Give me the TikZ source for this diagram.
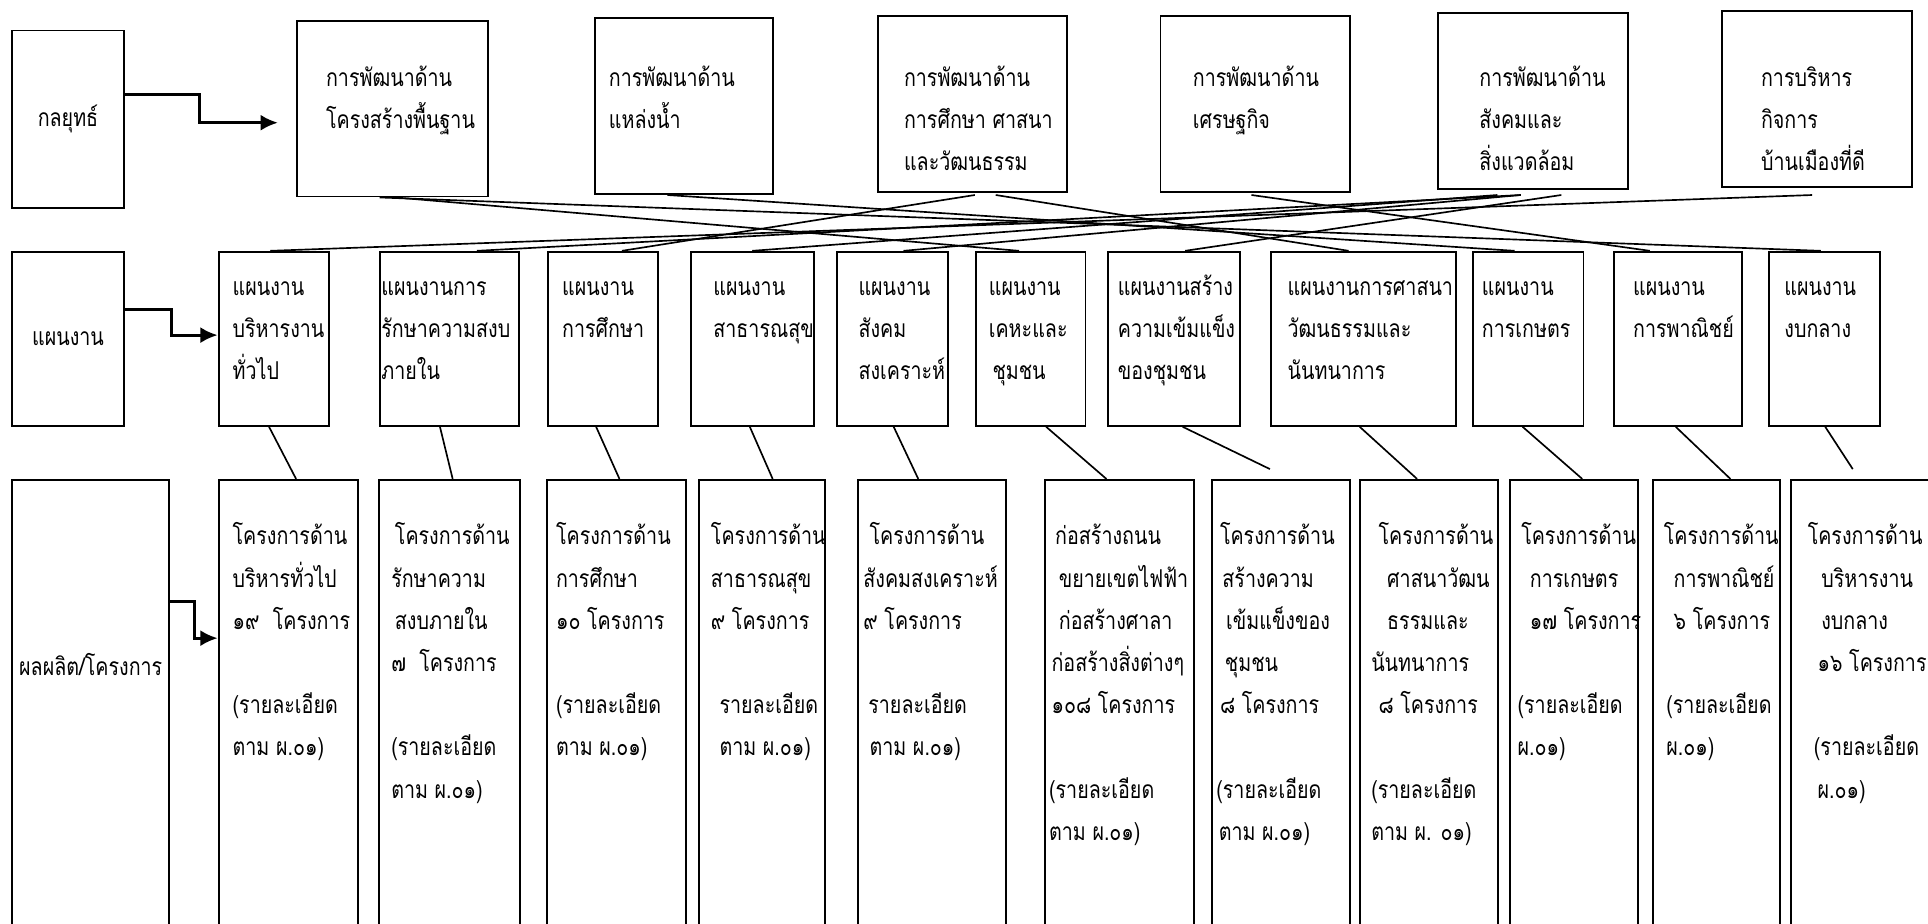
\documentclass[tikz,border=0pt]{standalone}
\usepackage{fontspec}
\newfontfamily\thaifont[Script=Thai,FakeStretch=0.8]{Loma}
\usetikzlibrary{%
  arrows.meta,%
  calc%
}
\tikzset{>={Latex[length=14pt,width=13pt]}}
\newcommand\ind[1]{\hspace*{#1pt}}
\tikzset{
  box/.style={draw, line width=1.6pt, anchor=north west, inner sep=0pt},
  txt/.style={anchor=north west, inner sep=0pt, align=left, yshift=19pt,
    font=\thaifont\fontsize{20}{34.3}\selectfont},
  lbl/.style={inner sep=0pt, font=\thaifont\fontsize{20}{34.3}\selectfont},
  link/.style={line width=1.35pt},
  arrow/.style={->, line width=2.4pt}
}

\begin{document}
\begin{tikzpicture}[x=1pt,y=-1pt]
  \useasboundingbox (0,0) rectangle (1568,751);
  \clip (0,0) rectangle (1568,751);

  % strategies
  \node[box, minimum width=91, minimum height=144] (lk) at (9,24) {};
  \node[lbl] at (lk) {กลยุทธ์};
  \node[box, minimum width=155, minimum height=143] (s1) at (241,16) {};
  \node[box, minimum width=145, minimum height=143] (s2) at (483,14) {};
  \node[box, minimum width=154, minimum height=143] (s3) at (713,12) {};
  \node[box, minimum width=154, minimum height=143] (s4) at (943,12) {};
  \node[box, minimum width=154, minimum height=143] (s5) at (1169,10) {};
  \node[box, minimum width=154, minimum height=143] (s6) at (1400,8) {};
  \node[txt] (s1t) at (265,65) {\strut การพัฒนาด้าน\\โครงสร้างพื้นฐาน};
  \node[txt] (s2t) at (495,65) {\strut การพัฒนาด้าน\\แหล่งน้ำ};
  \node[txt] (s3t) at (735,65) {\strut การพัฒนาด้าน\\การศึกษา ศาสนา\\และวัฒนธรรม};
  \node[txt] (s4t) at (970,65) {\strut การพัฒนาด้าน\\เศรษฐกิจ};
  \node[txt] (s5t) at (1203,65) {\strut การพัฒนาด้าน\\สังคมและ\\สิ่งแวดล้อม};
  \node[txt] (s6t) at (1432,65) {\strut การบริหาร\\กิจการ\\บ้านเมืองที่ดี};

  % plans
  \node[box, minimum width=91, minimum height=141.5] (lp) at (9,204) {};
  \node[lbl] at (lp) {แผนงาน};
  \node[box, minimum width=90, minimum height=141.5] (p1) at (177,204) {};
  \node[box, minimum width=113, minimum height=141.5] (p2) at (308,204) {};
  \node[box, minimum width=89, minimum height=141.5] (p3) at (445,204) {};
  \node[box, minimum width=100, minimum height=141.5] (p4) at (561,204) {};
  \node[box, minimum width=90, minimum height=141.5] (p5) at (680,204) {};
  \node[box, minimum width=89, minimum height=141.5] (p6) at (793,204) {};
  \node[box, minimum width=108, minimum height=141.5] (p7) at (900,204) {};
  \node[box, minimum width=150, minimum height=141.5] (p8) at (1033,204) {};
  \node[box, minimum width=90, minimum height=141.5] (p9) at (1197,204) {};
  \node[box, minimum width=104, minimum height=141.5] (p10) at (1312,204) {};
  \node[box, minimum width=90, minimum height=141.5] (p11) at (1438,204) {};
  \node[txt] (p1t) at (189,235) {\strut แผนงาน\\บริหารงาน\\ทั่วไป};
  \node[txt] (p2t) at (310,235) {\strut แผนงานการ\\รักษาความสงบ\\ภายใน};
  \node[txt] (p3t) at (457,235) {\strut แผนงาน\\การศึกษา};
  \node[txt] (p4t) at (580,235) {\strut แผนงาน\\สาธารณสุข};
  \node[txt] (p5t) at (698,235) {\strut แผนงาน\\สังคม\\สงเคราะห์};
  \node[txt] (p6t) at (804,235) {\strut แผนงาน\\เคหะและ\\\ind{3}ชุมชน};
  \node[txt] (p7t) at (909,235) {\strut แผนงานสร้าง\\ความเข้มแข็ง\\ของชุมชน};
  \node[txt] (p8t) at (1047,235) {\strut แผนงานการศาสนา\\วัฒนธรรมและ\\นันทนาการ};
  \node[txt] (p9t) at (1205,235) {\strut แผนงาน\\การเกษตร};
  \node[txt] (p10t) at (1328,235) {\strut แผนงาน\\การพาณิชย์};
  \node[txt] (p11t) at (1451,235) {\strut แผนงาน\\งบกลาง};

  % projects
  \node[box, minimum width=128, minimum height=420] (lr) at (9,389.5) {};
  \node[lbl] at ($(lr.north)+(0,151)$) {ผลผลิต/โครงการ};
  \node[box, minimum width=113, minimum height=420] (r1) at (177,389.5) {};
  \node[box, minimum width=114.5, minimum height=420] (r2) at (307.5,389.5) {};
  \node[box, minimum width=113, minimum height=420] (r3) at (444,389.5) {};
  \node[box, minimum width=102, minimum height=420] (r4) at (568,389.5) {};
  \node[box, minimum width=120, minimum height=420] (r5) at (697,389.5) {};
  \node[box, minimum width=121, minimum height=420] (r6) at (849,389.5) {};
  \node[box, minimum width=112.5, minimum height=420] (r7) at (984.5,389.5) {};
  \node[box, minimum width=112.5, minimum height=420] (r8) at (1105,389.5) {};
  \node[box, minimum width=104, minimum height=420] (r9) at (1227,389.5) {};
  \node[box, minimum width=103.5, minimum height=420] (r10) at (1343.5,389.5) {};
  \node[box, minimum width=134, minimum height=420] (r11) at (1456,389.5) {};
  \node[txt] (r1t) at (189,438) {\strut โครงการด้าน\\บริหารทั่วไป\\๑๙\ \ โครงการ\\~\\(รายละเอียด\\ตาม ผ.๐๑)};
  \node[txt] (r2t) at (318,438) {\strut\ind{3}โครงการด้าน\\รักษาความ\\\ind{3}สงบภายใน\\๗\ \ โครงการ\\~\\(รายละเอียด\\ตาม ผ.๐๑)};
  \node[txt] (r3t) at (452,438) {\strut โครงการด้าน\\การศึกษา\\๑๐ โครงการ\\~\\(รายละเอียด\\ตาม ผ.๐๑)};
  \node[txt] (r4t) at (578,438) {\strut โครงการด้าน\\สาธารณสุข\\๙ โครงการ\\~\\\ind{7}รายละเอียด\\\ind{7}ตาม ผ.๐๑)};
  \node[txt] (r5t) at (702,438) {\strut\ind{5}โครงการด้าน\\สังคมสงเคราะห์\\๙ โครงการ\\~\\\ind{4}รายละเอียด\\\ind{5}ตาม ผ.๐๑)};
  \node[txt] (r6t) at (853,438) {\strut\ind{5}ก่อสร้างถนน\\\ind{8}ขยายเขตไฟฟ้า\\\ind{8}ก่อสร้างศาลา\\\ind{2}ก่อสร้างสิ่งต่างๆ\\\ind{2}๑๐๘ โครงการ\\~\\(รายละเอียด\\ตาม ผ.๐๑)};
  \node[txt] (r7t) at (989,438) {\strut\ind{3}โครงการด้าน\\\ind{5}สร้างความ\\\ind{8}เข้มแข็งของ\\\ind{7}ชุมชน\\\ind{3}๘ โครงการ\\~\\(รายละเอียด\\\ind{2}ตาม ผ.๐๑)};
  \node[txt] (r8t) at (1115,438) {\strut\ind{6}โครงการด้าน\\\ind{13}ศาสนาวัฒน\\\ind{13}ธรรมและ\\นันทนาการ\\\ind{6}๘ โครงการ\\~\\(รายละเอียด\\ตาม ผ. ๐๑)};
  \node[txt] (r9t) at (1234,438) {\strut\ind{3}โครงการด้าน\\\ind{10}การเกษตร\\\ind{10}๑๗ โครงการ\\~\\(รายละเอียด\\ผ.๐๑)};
  \node[txt] (r10t) at (1353,438) {\strut โครงการด้าน\\\ind{8}การพาณิชย์\\\ind{8}๖ โครงการ\\~\\\ind{2}(รายละเอียด\\\ind{2}ผ.๐๑)};
  \node[txt] (r11t) at (1470,438) {\strut โครงการด้าน\\\ind{11}บริหารงาน\\\ind{11}งบกลาง\\\ind{8}๑๖ โครงการ\\~\\\ind{5}(รายละเอียด\\\ind{8}ผ.๐๑)};

  % arrows from the row labels
  \coordinate (ks) at ($(s1.west)+(-15,11.5)$);
  \coordinate (kl) at ($(lr.north east)+(0,99.5)$);
  \coordinate (kr) at ($(r1.north west)+(0,129.5)$);
  \draw[arrow] ($(lk.east)+(0,-20)$) -| ($(lk.east)!0.49!(ks)$) |- (ks);
  \draw[arrow] ($(lp.east)+(0,-24)$) -| ($(lp.east)!0.5!(p1.west)+(0,-3)$) |- ($(p1.west)+(0,-3)$);
  \draw[arrow] (kl) -| ($(kl)!0.5!(kr)$) |- (kr);

  % strategy to plan
  \draw[link] ($(s1.south)+(-10.5,0)$) -- ($(p11.north)+(-3,0)$);
  \draw[link] ($(s1.south)+(2.5,0)$) -- ($(p6.north)+(-9.5,0)$);
  \draw[link] ($(s2.south)+(-13.5,0)$) -- ($(p9.north)+(-11,0)$);
  \draw[link] ($(s3.south)+(2,2)$) -- ($(p3.north)+(15.5,0)$);
  \draw[link] ($(s3.south)+(19,2)$) -- ($(p8.north)+(-12,0)$);
  \draw[link] ($(s4.south)+(-3,2)$) -- ($(p10.north)+(-23,0)$);
  \draw[link] ($(s5.south)+(-29,4)$) -- (p4.north);
  \draw[link] ($(s5.south)+(-10,4)$) -- ($(p5.north)+(9,0)$);
  \draw[link] ($(s5.south)+(23,4)$) -- ($(p7.north)+(9,0)$);
  \draw[link] ($(s5.south)+(-10,4)$) -- ($(p2.north)+(22.5,0)$);
  \draw[link] ($(s6.south)+(-4,6)$) -- ($(p1.north)+(-3,0)$);

  % plan to project
  \draw[link] ($(p1.south)+(-4,0)$) -- ($(r1.north)+(6.5,0)$);
  \draw[link] ($(p2.south)+(-7.5,0)$) -- ($(r2.north)+(2.6,0)$);
  \draw[link] ($(p3.south)+(-5.5,0)$) -- ($(r3.north)+(2.5,0)$);
  \draw[link] ($(p4.south)+(-2,0)$) -- ($(r4.north)+(8.6,0)$);
  \draw[link] ($(p5.south)+(1,0)$) -- ($(r5.north)+(-11,0)$);
  \draw[link] ($(p6.south)+(12.5,0)$) -- ($(r6.north)+(-10.5,0)$);
  \draw[link] ($(p7.south)+(7,0)$) -- ($(r7.north)+(-8.75,-8)$);
  \draw[link] ($(p8.south)+(-3,0)$) -- ($(r8.north)+(-9.6,0)$);
  \draw[link] ($(p9.south)+(-4.5,0)$) -- ($(r9.north)+(7,0)$);
  \draw[link] ($(p10.south)+(-2,0)$) -- ($(r10.north)+(11.25,0)$);
  \draw[link] ($(p11.south)+(0.6,0)$) -- ($(r11.north)+(-17,-8)$);
\end{tikzpicture}
\end{document}
